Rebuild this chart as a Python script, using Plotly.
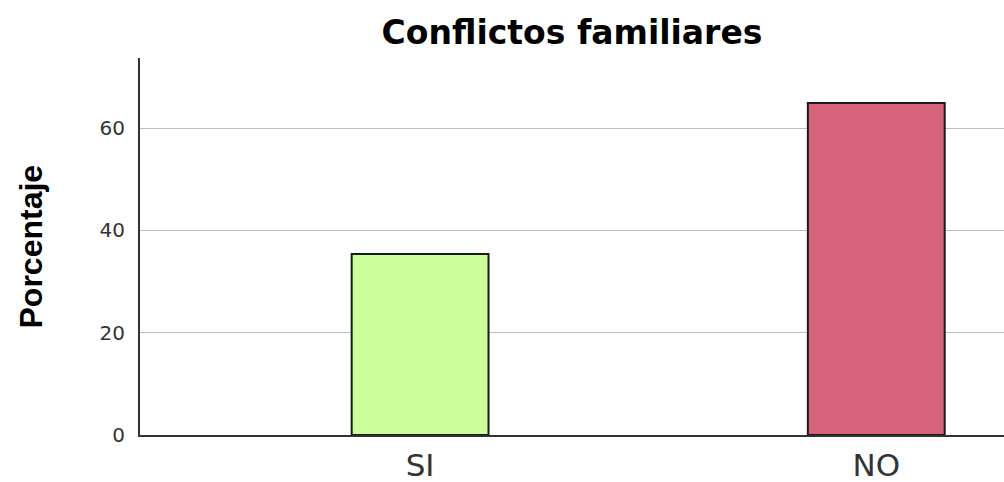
import plotly.graph_objects as go

categories = ["SI", "NO"]
values = [35.4, 64.9]
colors = ["#CCFF99", "#D6637A"]
y_ticks = [0, 20, 40, 60]

fig = go.Figure()
fig.add_trace(go.Bar(
    x=[0, 1], y=values, width=0.3,
    marker=dict(color=colors, line=dict(color="#1a1a1a", width=2)),
))
fig.update_layout(
    width=1004, height=482,
    margin=dict(l=140, r=0, t=58, b=47),
    paper_bgcolor="white", plot_bgcolor="white",
    showlegend=False,
    title=dict(text="<b>Conflictos familiares</b>", x=572 / 1004, xanchor="center",
               xref="container", y=1 - 32 / 482, yanchor="middle", yref="container",
               font=dict(family="DejaVu Sans", size=33, color="#000")),
    font=dict(family="DejaVu Sans", color="#333"),
)
fig.update_xaxes(
    range=[-0.614, 1.28], tickvals=[0, 1], ticktext=categories,
    showline=True, linecolor="#333", linewidth=2, showgrid=False,
    ticks="", ticklabelstandoff=2, tickfont=dict(size=31, color="#333"),
    zeroline=False, automargin=False,
)
fig.update_yaxes(
    range=[0, 73.7], tickvals=y_ticks,
    showline=True, linecolor="#333", linewidth=2,
    showgrid=True, gridcolor="#bdbdbd", gridwidth=1,
    ticks="", ticklabelstandoff=9, tickfont=dict(size=20, color="#333"),
    zeroline=False, automargin=False,
)
fig.add_annotation(
    text="<b>Porcentaje</b>", textangle=-90,
    xref="paper", yref="paper", x=(30 - 140) / 864, y=0.5,
    xanchor="center", yanchor="middle", showarrow=False,
    font=dict(family="Liberation Sans", size=32, color="#000"),
)
fig.write_html(
    "out.html",
    config={"displayModeBar": False},
    post_script="document.body.style.margin='0';document.body.style.overflow='hidden';",
)
